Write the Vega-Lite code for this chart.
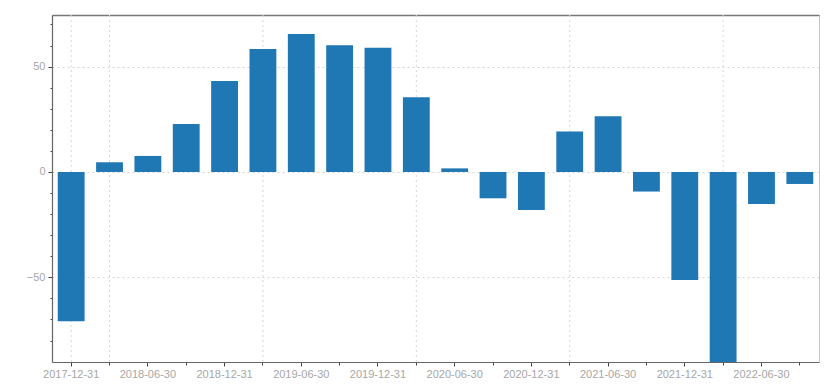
{
  "$schema": "https://vega.github.io/schema/vega-lite/v6.json",
  "width": 767,
  "height": 347,
  "autosize": "none",
  "padding": {"left": 52, "top": 15, "right": 13, "bottom": 22},
  "background": "white",
  "config": {
    "view": {"stroke": "#c4c4c4", "strokeWidth": 1},
    "font": "Liberation Sans"
  },
  "datasets": {
    "bars": [
      {"date": "2017-12-31", "value": -70.8},
      {"date": "2018-03-31", "value": 4.6},
      {"date": "2018-06-30", "value": 7.6},
      {"date": "2018-09-30", "value": 22.8},
      {"date": "2018-12-31", "value": 43.2},
      {"date": "2019-03-31", "value": 58.4},
      {"date": "2019-06-30", "value": 65.5},
      {"date": "2019-09-30", "value": 60.2},
      {"date": "2019-12-31", "value": 59.0},
      {"date": "2020-03-31", "value": 35.5},
      {"date": "2020-06-30", "value": 1.7},
      {"date": "2020-09-30", "value": -12.5},
      {"date": "2020-12-31", "value": -18.0},
      {"date": "2021-03-31", "value": 19.2},
      {"date": "2021-06-30", "value": 26.4},
      {"date": "2021-09-30", "value": -9.3},
      {"date": "2021-12-31", "value": -51.3},
      {"date": "2022-03-31", "value": -92.0},
      {"date": "2022-06-30", "value": -15.2},
      {"date": "2022-09-30", "value": -5.7}
    ],
    "grid": [
      {"date": "2017-12-31"},
      {"date": "2018-03-31"},
      {"date": "2019-03-31"},
      {"date": "2020-03-31"},
      {"date": "2021-03-31"},
      {"date": "2022-03-31"}
    ]
  },
  "layer": [
    {
      "data": {"name": "grid"},
      "mark": {"type": "rule", "color": "#d6d6d6", "strokeDash": [2, 3], "strokeWidth": 1},
      "encoding": {
        "x": {
          "field": "date",
          "type": "ordinal",
          "scale": {"paddingInner": 0.3, "paddingOuter": 0.15},
          "axis": {
            "orient": "top",
            "labels": false,
            "ticks": false,
            "grid": false,
            "domainColor": "#777777",
            "domainWidth": 1.5,
            "title": null
          }
        }
      }
    },
    {
      "data": {"name": "bars"},
      "mark": {"type": "bar", "color": "#1f77b4", "clip": true},
      "encoding": {
        "x": {
          "field": "date",
          "type": "ordinal",
          "scale": {"paddingInner": 0.3, "paddingOuter": 0.15},
          "axis": {
            "orient": "bottom",
            "title": null,
            "labelAngle": 0,
            "labelExpr": "test(/-(06|12)-/, datum.value) ? datum.label : ''",
            "labelColor": "#a6a6a6",
            "labelFontSize": 11,
            "labelPadding": 2,
            "domainColor": "#666666",
            "domainWidth": 1.2,
            "tickColor": "#444444",
            "tickSize": {"condition": {"test": "test(/-(06|12)-/, datum.value)", "value": 4}, "value": 3},
            "grid": false
          }
        },
        "y": {
          "field": "value",
          "type": "quantitative",
          "scale": {"domain": [-90.2, 74.5], "nice": false, "zero": false},
          "axis": {
            "title": null,
            "values": [-80, -70, -60, -50, -40, -30, -20, -10, 0, 10, 20, 30, 40, 50, 60, 70],
            "labelExpr": "datum.value % 50 === 0 ? datum.label : ''",
            "labelColor": "#a6a6a6",
            "labelFontSize": 11,
            "labelPadding": 3,
            "domainColor": "#666666",
            "domainWidth": 1.2,
            "tickColor": "#444444",
            "tickSize": {"condition": {"test": "datum.value % 50 === 0", "value": 4}, "value": 2},
            "grid": true,
            "gridColor": "#d6d6d6",
            "gridDash": [2, 3],
            "gridOpacity": {"condition": {"test": "datum.value % 50 === 0", "value": 1}, "value": 0}
          }
        }
      }
    }
  ],
  "resolve": {"axis": {"x": "independent"}}
}
